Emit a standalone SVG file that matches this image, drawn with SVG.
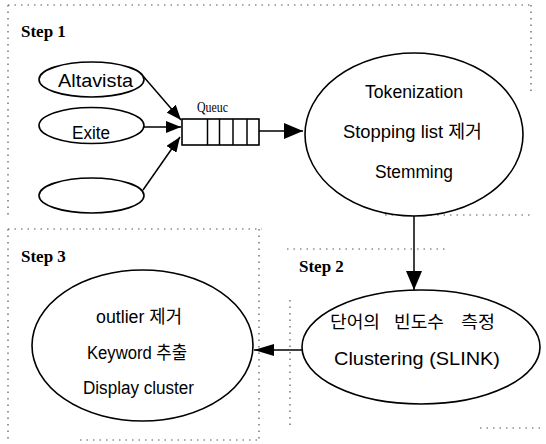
<svg xmlns="http://www.w3.org/2000/svg" width="546" height="444" viewBox="0 0 546 444">
<style>
.bg{fill:#fff}
.node{fill:#fff;stroke:#000;stroke-width:1.6}
.conn{fill:none;stroke:#000;stroke-width:1.5}
.dot{fill:none;stroke:#555;stroke-width:1.2;stroke-dasharray:1.5 5}
.t{font-family:"Liberation Sans","Noto Sans CJK KR",Arial,sans-serif;font-size:18px;fill:#000}
.k{font-family:"Noto Sans CJK KR",sans-serif;font-size:17px;fill:#000}
.step{font-family:"Liberation Serif","Times New Roman",serif;font-size:17px;font-weight:bold;fill:#000}
.q{font-family:"Liberation Serif","Times New Roman",serif;font-size:14px;fill:#000}
</style>
<defs>
<marker id="aS" markerUnits="userSpaceOnUse" markerWidth="15" markerHeight="12" refX="15" refY="6" orient="auto"><path d="M0,0 L15,6 L0,12 z" fill="#000"/></marker>
<marker id="aL" markerUnits="userSpaceOnUse" markerWidth="19" markerHeight="16" refX="19" refY="8" orient="auto"><path d="M0,0 L19,8 L0,16 z" fill="#000"/></marker>
<marker id="aM" markerUnits="userSpaceOnUse" markerWidth="20" markerHeight="12" refX="20" refY="6" orient="auto"><path d="M0,0 L20,6 L0,12 z" fill="#000"/></marker>
</defs>
<rect class="bg" x="0" y="0" width="546" height="444"/>
<g id="frames">
<line class="dot" x1="8" y1="5" x2="531" y2="5"/>
<line class="dot" x1="8" y1="5" x2="8" y2="215"/>
<line class="dot" x1="531" y1="5" x2="531" y2="95"/>
<line class="dot" x1="385" y1="215" x2="530" y2="215"/>
<line class="dot" x1="8" y1="229" x2="262" y2="229"/>
<line class="dot" x1="8" y1="229" x2="8" y2="440"/>
<line class="dot" x1="259" y1="229" x2="259" y2="440"/>
<line class="dot" x1="80" y1="440" x2="259" y2="440"/>
<line class="dot" x1="287" y1="249" x2="445" y2="249"/>
<line class="dot" x1="290" y1="300" x2="290" y2="430"/>
<line class="dot" x1="480" y1="428" x2="540" y2="428"/>
</g>
<g id="labels">
<text class="step" x="21" y="37">Step 1</text>
<text class="step" x="299" y="272">Step 2</text>
<text class="step" x="21" y="262">Step 3</text>
</g>
<g id="connectors">
<line class="conn" x1="143" y1="76" x2="181" y2="120" marker-end="url(#aS)"/>
<line class="conn" x1="144" y1="127" x2="181" y2="127" marker-end="url(#aS)"/>
<line class="conn" x1="143" y1="190" x2="180" y2="137" marker-end="url(#aS)"/>
<line class="conn" x1="259" y1="131" x2="303" y2="131" marker-end="url(#aL)"/>
<line class="conn" x1="414" y1="216" x2="414" y2="290" marker-end="url(#aL)"/>
<line class="conn" x1="302" y1="350" x2="254" y2="350" marker-end="url(#aM)"/>
</g>
<g id="altavista">
<ellipse class="node" cx="91.5" cy="79.5" rx="52.5" ry="17.5"/>
<text class="t" x="58" y="87" textLength="75" lengthAdjust="spacingAndGlyphs">Altavista</text>
</g>
<g id="exite">
<ellipse class="node" cx="91.5" cy="125.5" rx="52.5" ry="18"/>
<text class="t" x="72" y="139" textLength="38" lengthAdjust="spacingAndGlyphs">Exite</text>
</g>
<g id="empty">
<ellipse class="node" cx="91.5" cy="195.5" rx="52.5" ry="17.5"/>
</g>
<g id="queue">
<text class="q" x="197" y="112" textLength="31" lengthAdjust="spacingAndGlyphs">Queuc</text>
<rect class="node" x="182" y="119" width="77" height="26"/>
<line class="conn" x1="207.5" y1="119" x2="207.5" y2="145"/>
<line class="conn" x1="219.5" y1="119" x2="219.5" y2="145"/>
<line class="conn" x1="233" y1="119" x2="233" y2="145"/>
<line class="conn" x1="247" y1="119" x2="247" y2="145"/>
</g>
<g id="step1">
<ellipse class="node" cx="414" cy="134.5" rx="109" ry="81.5"/>
<text class="t" x="365" y="98" textLength="98" lengthAdjust="spacingAndGlyphs">Tokenization</text>
<text class="t" x="343" y="138" textLength="139" lengthAdjust="spacingAndGlyphs">Stopping list 제거</text>
<text class="t" x="375" y="178" textLength="78" lengthAdjust="spacingAndGlyphs">Stemming</text>
</g>
<g id="step2">
<ellipse class="node" cx="421" cy="347" rx="119" ry="57"/>
<text class="k" y="328"><tspan x="330" textLength="50" lengthAdjust="spacingAndGlyphs">단어의</tspan><tspan x="394" textLength="50" lengthAdjust="spacingAndGlyphs">빈도수</tspan><tspan x="461" textLength="34" lengthAdjust="spacingAndGlyphs">측정</tspan></text>
<text class="t" x="334" y="365" textLength="166" lengthAdjust="spacingAndGlyphs">Clustering (SLINK)</text>
</g>
<g id="step3">
<ellipse class="node" cx="142.5" cy="345.5" rx="110.5" ry="75.5"/>
<text class="t" x="96" y="323" textLength="86" lengthAdjust="spacingAndGlyphs">outlier 제거</text>
<text class="t" x="87" y="359" textLength="100" lengthAdjust="spacingAndGlyphs">Keyword 추출</text>
<text class="t" x="83" y="394" textLength="111" lengthAdjust="spacingAndGlyphs">Display cluster</text>
</g>
</svg>
